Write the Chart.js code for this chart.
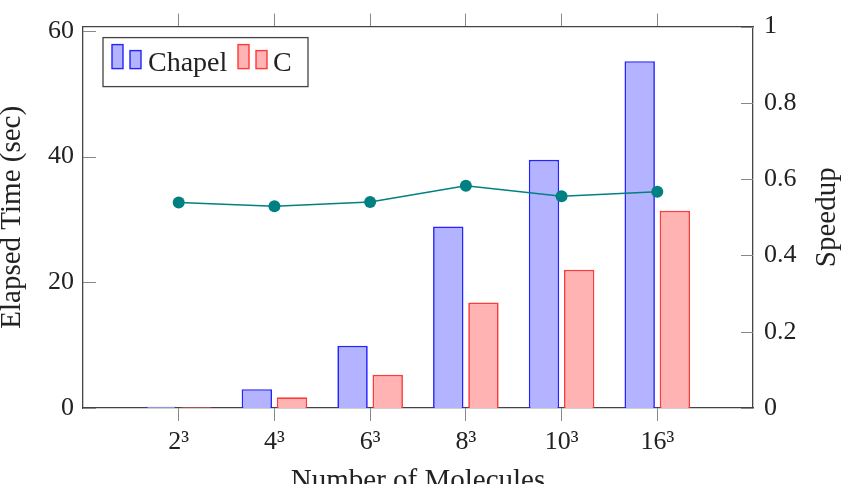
<!DOCTYPE html>
<html>
<head>
<meta charset="utf-8">
<script src="https://cdn.jsdelivr.net/npm/chart.js@4"></script>
<style>
  html, body { margin: 0; padding: 0; background: #fff; }
</style>
</head>
<body>
<canvas id="chart" width="848" height="484"></canvas>
<script>
// Data
const molecules = ["2³", "4³", "6³", "8³", "10³", "16³"];
const chapelTimes = [0.2, 3.0, 9.9, 28.9, 39.5, 55.2];
const cTimes = [0.1, 1.7, 5.3, 16.8, 22.0, 31.4];
const speedup = [0.539, 0.529, 0.540, 0.583, 0.555, 0.567];
const timeTicks = [0, 20, 40, 60];
const speedupTicks = [0, 0.2, 0.4, 0.6, 0.8, 1];

const serif = "'Liberation Serif', 'DejaVu Serif', serif";
const textColor = "#222";
const frameColor = "#444";
const tickColor = "#888";
const chapelFill = "rgba(179, 179, 255, 1)";
const chapelLine = "#2424ff";
const cFill = "rgba(255, 179, 179, 1)";
const cLine = "#ff3a3a";
const teal = "#008080";

// category positions 1..6 on a 0..7 linear axis
const catTicks = (scale) => {
  scale.ticks = molecules.map((m, i) => ({ value: i + 1 }));
};

// inner tick marks, legend box and the right axis title
const extras = {
  id: "extras",
  afterDraw(chart) {
    const ctx = chart.ctx;
    const area = chart.chartArea;
    const yl = chart.scales.y;
    const yr = chart.scales.y2;
    ctx.save();

    ctx.strokeStyle = tickColor;
    ctx.lineWidth = 1;
    timeTicks.forEach((v) => {
      const py = Math.round(yl.getPixelForValue(v)) + 0.5;
      ctx.beginPath();
      ctx.moveTo(area.left, py);
      ctx.lineTo(area.left + 13, py);
      ctx.stroke();
    });
    speedupTicks.forEach((v) => {
      const py = Math.round(yr.getPixelForValue(v)) + 0.5;
      ctx.beginPath();
      ctx.moveTo(area.right, py);
      ctx.lineTo(area.right - 12, py);
      ctx.stroke();
    });

    // legend
    const lx = area.left + 20;
    const ly = area.top + 11;
    ctx.fillStyle = "#fff";
    ctx.fillRect(lx, ly, 205, 49);
    ctx.strokeStyle = frameColor;
    ctx.lineWidth = 1.3;
    ctx.strokeRect(lx, ly, 205, 49);

    const icon = (x, y, w, h, fill, line) => {
      ctx.fillStyle = fill;
      ctx.fillRect(x, y, w, h);
      ctx.strokeStyle = line;
      ctx.lineWidth = 1.4;
      ctx.strokeRect(x, y, w, h);
    };
    icon(lx + 9, ly + 7, 11, 24, chapelFill, chapelLine);
    icon(lx + 27, ly + 13, 11, 18, chapelFill, chapelLine);
    icon(lx + 135, ly + 7, 11, 24, cFill, cLine);
    icon(lx + 153, ly + 13, 11, 18, cFill, cLine);

    ctx.fillStyle = textColor;
    ctx.font = "28px " + serif;
    ctx.textBaseline = "alphabetic";
    ctx.textAlign = "left";
    ctx.fillText("Chapel", lx + 45, ly + 33);
    ctx.fillText("C", lx + 170, ly + 33);

    // right axis title, reads bottom to top
    ctx.translate(835, (area.top + area.bottom) / 2);
    ctx.rotate(-Math.PI / 2);
    ctx.font = "29px " + serif;
    ctx.textAlign = "center";
    ctx.fillText("Speedup", 0, 0);

    ctx.restore();
  },
};

new Chart(document.getElementById("chart").getContext("2d"), {
  type: "bar",
  data: {
    datasets: [
      {
        type: "line",
        label: "Speedup",
        data: speedup.map((v, i) => ({ x: i + 1, y: v })),
        xAxisID: "x",
        yAxisID: "y2",
        borderColor: teal,
        backgroundColor: teal,
        borderWidth: 1.5,
        pointRadius: 6,
        pointBorderWidth: 0,
        pointBackgroundColor: teal,
        order: 0,
      },
      {
        label: "Chapel",
        data: chapelTimes.map((v, i) => ({ x: i + 1, y: v })),
        xAxisID: "x",
        yAxisID: "y",
        backgroundColor: chapelFill,
        borderColor: chapelLine,
        borderWidth: 1.7,
        categoryPercentage: 0.735,
        barPercentage: 0.865,
        order: 1,
      },
      {
        label: "C",
        data: cTimes.map((v, i) => ({ x: i + 1, y: v })),
        xAxisID: "x",
        yAxisID: "y",
        backgroundColor: cFill,
        borderColor: cLine,
        borderWidth: 1.7,
        categoryPercentage: 0.735,
        barPercentage: 0.865,
        order: 1,
      },
    ],
  },
  options: {
    responsive: false,
    animation: false,
    layout: { padding: 0 },
    plugins: {
      legend: { display: false },
      tooltip: { enabled: false },
    },
    scales: {
      x: {
        type: "linear",
        position: "bottom",
        min: 0,
        max: 7,
        offset: false,
        afterBuildTicks: catTicks,
        afterFit: (s) => { s.height = 76; },
        ticks: {
          callback: (v) => molecules[v - 1] || "",
          font: { family: serif, size: 26 },
          color: textColor,
          padding: 6,
          maxRotation: 0,
          autoSkip: false,
        },
        grid: { drawOnChartArea: false, offset: false, tickLength: 13, color: tickColor },
        border: { color: frameColor, width: 1.3 },
        title: {
          display: true,
          text: "Number of Molecules",
          font: { family: serif, size: 29 },
          color: textColor,
          padding: { top: 0, bottom: -15 },
        },
      },
      xTop: {
        type: "linear",
        position: "top",
        min: 0,
        max: 7,
        offset: false,
        afterBuildTicks: catTicks,
        afterFit: (s) => { s.height = 21; },
        ticks: { display: false },
        grid: { drawOnChartArea: false, offset: false, tickLength: 13, color: tickColor },
        border: { color: frameColor, width: 1.3 },
      },
      y: {
        type: "linear",
        position: "left",
        min: 0,
        max: 60.7,
        afterBuildTicks: (s) => { s.ticks = timeTicks.map((v) => ({ value: v })); },
        afterFit: (s) => { s.width = 83; },
        ticks: {
          callback: (v) => String(v),
          font: { family: serif, size: 26 },
          color: textColor,
          padding: 9,
        },
        grid: { display: false, drawTicks: false },
        border: { color: frameColor, width: 1.3 },
        title: {
          display: true,
          text: "Elapsed Time (sec)",
          font: { family: serif, size: 29 },
          color: textColor,
          padding: { top: -5, bottom: 0 },
        },
      },
      y2: {
        type: "linear",
        position: "right",
        min: 0,
        max: 1,
        afterBuildTicks: (s) => { s.ticks = speedupTicks.map((v) => ({ value: v })); },
        afterFit: (s) => { s.width = 95; },
        ticks: {
          callback: (v) => String(v),
          font: { family: serif, size: 26 },
          color: textColor,
          padding: 11,
        },
        grid: { display: false, drawTicks: false },
        border: { color: frameColor, width: 1.3 },
      },
    },
  },
  plugins: [extras],
});
</script>
</body>
</html>
